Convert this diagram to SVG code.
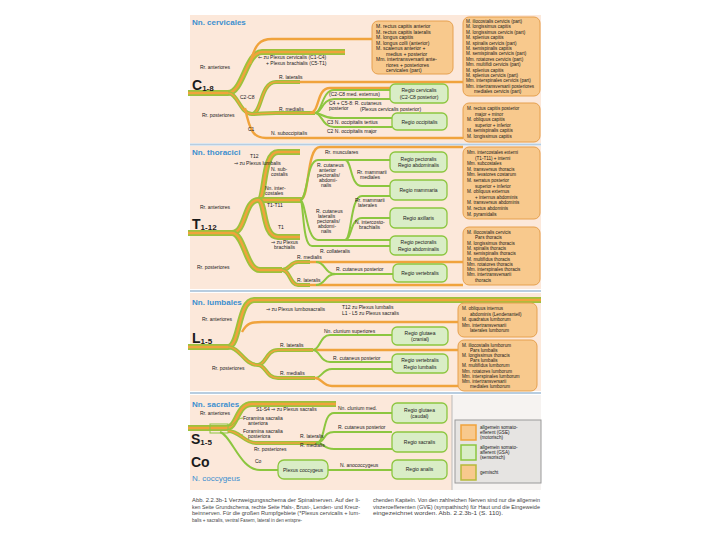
<svg xmlns="http://www.w3.org/2000/svg" width="720" height="540" viewBox="0 0 720 540">
<style>
text{font-family:"Liberation Sans",Arial,sans-serif;fill:#1a1a1a}
.s{font-size:5px}
.xs{font-size:4.6px}
.ti{font-size:8px;font-weight:bold;fill:#3d8fcf}
.big{font-size:14px;font-weight:bold}
.sub{font-size:8px;font-weight:bold}
.bg{fill:#fce8da}
.ob{fill:#f8c98d;stroke:#e6a04e;stroke-width:1}
.gb{fill:#d9edc6;stroke:#8cc63f;stroke-width:1.3}
.c{text-anchor:middle}
.tk{fill:none;stroke:#9cc23c;stroke-width:6}
.tc{fill:none;stroke:#f0a33c;stroke-width:2.4}
.mk{fill:none;stroke:#9cc23c;stroke-width:4}
.mc{fill:none;stroke:#f0a33c;stroke-width:1.5}
.o{fill:none;stroke:#f0a33c;stroke-width:2.4}
.g{fill:none;stroke:#8cc63f;stroke-width:2}
.gt{fill:none;stroke:#8cc63f;stroke-width:1}
.cap{font-size:5px;fill:#444}
.sep{stroke:#b8cde0;stroke-width:2}
</style>

<g id="backgrounds">
<rect x="190" y="15" width="351" height="128" class="bg"/>
<rect x="190" y="146" width="351" height="143" class="bg"/>
<rect x="190" y="293" width="351" height="98" class="bg"/>
<rect x="190" y="395" width="262" height="95" class="bg"/>
<rect x="452" y="395" width="89" height="95" fill="#f6f3f1"/>
<line x1="190" y1="144.5" x2="541" y2="144.5" class="sep"/>
<line x1="190" y1="291" x2="541" y2="291" class="sep"/>
<line x1="190" y1="393" x2="541" y2="393" class="sep"/>
<line x1="452" y1="395" x2="452" y2="490" stroke="#bbb" stroke-width="1"/>
</g>

<g id="connectors">
<!-- cervical -->
<path class="tk" d="M188,93 H228 C243,93 246,52 262,52 H345"/>
<path class="tc" d="M188,93 H228 C243,93 246,52 262,52 H345"/>
<path class="o" d="M250,64 C255,44 260,39 272,39 H372"/>
<path class="mk" d="M228,93 C238,93 240,114 252,114"/>
<path class="mc" d="M228,93 C238,93 240,114 252,114"/>
<path class="mk" d="M252,114 C262,114 260,82 276,82 H300"/>
<path class="mc" d="M252,114 C262,114 260,82 276,82 H300"/>
<path class="o" d="M300,82 H463"/>
<path class="mk" d="M252,114 C262,114 262,113 276,113 H315"/>
<path class="mc" d="M252,114 C262,114 262,113 276,113 H315"/>
<path class="o" d="M245,108 C250,132 254,138 266,138 H463"/>
<path class="o" d="M310,113 C320,113 316,88 330,88 H392"/>
<path class="g" d="M315,113 C322,113 322,90 334,90 H390"/>
<path class="g" d="M315,113 C322,113 322,99 334,99 H390"/>
<path class="g" d="M315,113 C322,113 322,118 334,118 H392"/>
<path class="g" d="M315,113 C322,113 322,127 334,127 H392"/>

<!-- thoracic -->
<path class="tk" d="M188,233 H232 C246,233 244,200 258,200"/>
<path class="tc" d="M188,233 H232 C246,233 244,200 258,200"/>
<path class="tk" d="M258,200 C266,200 262,152 278,152 H300"/>
<path class="tc" d="M258,200 C266,200 262,152 278,152 H300"/>
<path class="tk" d="M258,200 H302"/>
<path class="tc" d="M258,200 H302"/>
<path class="tk" d="M258,200 C266,200 262,237 278,237 H300"/>
<path class="tc" d="M258,200 C266,200 262,237 278,237 H300"/>
<path class="o" d="M300,200 C310,200 306,147 320,147 H463"/>
<path class="g" d="M300,200 C308,200 306,160 318,160 H390"/>
<path class="g" d="M345,160 C352,160 350,186 362,186 H390"/>
<path class="g" d="M300,200 C306,200 306,240 318,240 H390"/>
<path class="g" d="M345,240 C352,240 350,196 362,196 H390"/>
<path class="g" d="M345,240 C352,240 350,218 362,218 H390"/>
<path class="g" d="M300,200 C304,200 302,246 312,246 H390"/>
<path class="tk" d="M232,233 C244,233 246,270 260,270 H282"/>
<path class="tc" d="M232,233 C244,233 246,270 260,270 H282"/>
<path class="mk" d="M282,270 C290,270 290,262 298,262 H310"/>
<path class="mc" d="M282,270 C290,270 290,262 298,262 H310"/>
<path class="mk" d="M282,270 C290,270 290,285 298,285 H310"/>
<path class="mc" d="M282,270 C290,270 290,285 298,285 H310"/>
<path class="o" d="M310,262 H463"/>
<path class="o" d="M310,285 H463"/>
<path class="g" d="M316,262 C326,262 324,274 336,274 H393"/>
<path class="g" d="M316,285 C326,285 324,274 336,274"/>

<!-- lumbar -->
<path class="tk" d="M188,347 H228 C240,347 238,300 254,300 H541"/>
<path class="tc" d="M188,347 H228 C240,347 238,300 254,300 H541"/>
<path class="o" d="M242,332 C247,323 251,322 262,322 H458"/>
<path class="mk" d="M228,347 C240,347 244,365 258,365"/>
<path class="mc" d="M228,347 C240,347 244,365 258,365"/>
<path class="mk" d="M258,365 C266,365 266,350 278,350 H313"/>
<path class="mc" d="M258,365 C266,365 266,350 278,350 H313"/>
<path class="mk" d="M258,365 C266,365 266,378 278,378 H315"/>
<path class="mc" d="M258,365 C266,365 266,378 278,378 H315"/>
<path class="o" d="M313,350 H458"/>
<path class="g" d="M313,350 C320,350 320,335 330,335 H392"/>
<path class="g" d="M313,350 C320,350 320,362 330,362 H392"/>
<path class="g" d="M315,378 C322,378 322,369 332,369 H392"/>
<path class="o" d="M315,378 C322,378 322,386 332,386 H458"/>

<!-- sacral -->
<path class="tk" d="M188,428 H226 C238,428 236,404 252,404 H336"/>
<path class="tc" d="M188,428 H226 C238,428 236,404 252,404 H336"/>
<rect x="210" y="424" width="18" height="9" fill="none" stroke="#8cc63f" stroke-width="1"/>
<path class="gt" d="M228,426 C235,426 236,418 243,418"/>
<path class="gt" d="M228,431 C235,431 236,435 243,435"/>
<path class="mk" d="M228,431 C240,431 244,443 256,443 H318"/>
<path class="mc" d="M228,431 C240,431 244,443 256,443 H318"/>
<path class="g" d="M316,443 C326,443 322,413 334,413 H392"/>
<path class="g" d="M316,443 C326,443 322,432 334,432 H392"/>
<path class="g" d="M316,443 C326,443 322,449 334,449 H392"/>
<path class="g" d="M220,432 C232,436 240,470 260,470 H279"/>
<path class="g" d="M328,470 H392"/>
</g>

<g id="cervicales">
<text x="192" y="25" class="ti">Nn. cervicales</text>
<text x="192" y="90" class="big">C<tspan class="sub" dy="1">1-8</tspan></text>
<text x="200" y="69" class="s">Rr. anteriores</text>
<text x="202" y="117" class="s">Rr. posteriores</text>
<text x="258" y="59" class="s">⇐ zu Plexus cervicalis (C1-C4)</text>
<text x="266" y="65" class="s">+ Plexus brachialis (C5-T1)</text>
<text x="240" y="99" class="s">C2-C8</text>
<text x="279" y="79" class="s">R. lateralis</text>
<text x="279" y="111" class="s">R. medialis</text>
<text x="248" y="131" class="s">C1</text>
<text x="271" y="135" class="s">N. suboccipitalis</text>
<text x="329" y="96" class="s">(C2-C8 med. externus)</text>
<text x="329" y="105" class="s">C4 + C5-8: R. cutaneus</text>
<text x="329" y="110" class="s">posterior</text>
<text x="360" y="111" class="s">(Plexus cervicalis posterior)</text>
<text x="327" y="124" class="s">C3 N. occipitalis tertius</text>
<text x="327" y="133" class="s">C2 N. occipitalis major</text>
</g>
<g id="c-box-ventral">
<rect x="372" y="21" width="81" height="53" rx="6" class="ob"/>
<text class="s"><tspan x="376" y="28">M.  rectus capitis anterior</tspan><tspan x="376" y="33.5">M.  rectus capitis lateralis</tspan><tspan x="376" y="39">M.  longus capitis</tspan><tspan x="376" y="44.5">M.  longus colli (anterior)</tspan><tspan x="376" y="50">M.  scalenus anterior +</tspan><tspan x="386" y="55.5">medius + posterior</tspan><tspan x="376" y="61">Mm. intertransversarii ante-</tspan><tspan x="386" y="66.5">riores + posteriores</tspan><tspan x="386" y="72">cervicales (part)</tspan></text>
</g>
<g id="c-box-dorsal">
<rect x="463" y="17" width="77" height="79" rx="6" class="ob"/>
<text class="xs"><tspan x="466" y="23">M. iliocostalis cervicis (part)</tspan><tspan x="466" y="28.4">M. longissimus capitis</tspan><tspan x="466" y="33.8">M. longissimus cervicis (part)</tspan><tspan x="466" y="39.2">M. splenius capitis</tspan><tspan x="466" y="44.6">M. spinalis cervicis (part)</tspan><tspan x="466" y="50">M. semispinalis capitis</tspan><tspan x="466" y="55.4">M. semispinalis cervicis (part)</tspan><tspan x="466" y="60.8">Mm. rotatores cervicis (part)</tspan><tspan x="466" y="66.2">Mm. multifidi cervicis (part)</tspan><tspan x="466" y="71.6">M. splenius capitis</tspan><tspan x="466" y="77">M. splenius cervicis (part)</tspan><tspan x="466" y="82.4">Mm. interspinales cervicis (part)</tspan><tspan x="466" y="87.8">Mm. intertransversarii posteriores</tspan><tspan x="474" y="93.2">mediales cervicis (part)</tspan></text>
</g>
<g id="c-box-suboccipital">
<rect x="463" y="103" width="77" height="39" rx="6" class="ob"/>
<text class="xs"><tspan x="467" y="110">M. rectus capitis posterior</tspan><tspan x="475" y="115.6">major + minor</tspan><tspan x="467" y="121.2">M. obliquus capitis</tspan><tspan x="475" y="126.8">superior + inferior</tspan><tspan x="467" y="132.4">M. semispinalis capitis</tspan><tspan x="467" y="138">M. longissimus capitis</tspan></text>
</g>
<g id="c-regio-cervicalis">
<rect x="390" y="84" width="58" height="19" rx="5" class="gb"/>
<text x="419" y="92" class="s c">Regio cervicalis</text>
<text x="419" y="99" class="s c">(C2-C8 posterior)</text>
</g>
<g id="c-regio-occipitalis">
<rect x="392" y="113" width="55" height="17" rx="5" class="gb"/>
<text x="419.5" y="123.5" class="s c">Regio occipitalis</text>
</g>

<g id="thoracici">
<text x="192" y="155" class="ti">Nn. thoracici</text>
<text x="192" y="229" class="big">T<tspan class="sub" dy="1">1-12</tspan></text>
<text x="200" y="209" class="s">Rr. anteriores</text>
<text x="197" y="269" class="s">Rr. posteriores</text>
<text x="250" y="158" class="s">T12</text>
<text x="234" y="165" class="s">⇒ zu Plexus lumbalis</text>
<text x="271" y="171" class="s">N. sub-</text>
<text x="271" y="176" class="s">costalis</text>
<text x="265" y="190" class="s">Nn. inter-</text>
<text x="265" y="195" class="s">costales</text>
<text x="267" y="207" class="s">T1-T11</text>
<text x="278" y="229" class="s">T1</text>
<text x="271" y="244" class="s">⇒ zu Plexus</text>
<text x="274" y="249" class="s">brachialis</text>
<text x="325" y="154" class="s">Rr. musculares</text>
<text class="s"><tspan x="317" y="167">R. cutaneus</tspan><tspan x="319" y="172">anterior</tspan><tspan x="317" y="177">pectoralis/</tspan><tspan x="319" y="182">abdomi-</tspan><tspan x="321" y="187">nalis</tspan></text>
<text x="357" y="174" class="s">Rr. mammarii</text>
<text x="360" y="179" class="s">mediales</text>
<text class="s"><tspan x="316" y="213">R. cutaneus</tspan><tspan x="318" y="218">lateralis</tspan><tspan x="317" y="223">pectoralis/</tspan><tspan x="318" y="228">abdomi-</tspan><tspan x="321" y="233">nalis</tspan></text>
<text x="355" y="202" class="s">Rr. mammarii</text>
<text x="358" y="207" class="s">laterales</text>
<text x="355" y="224" class="s">N. intercosto-</text>
<text x="359" y="229" class="s">brachialis</text>
<text x="320" y="253" class="s">R. collateralis</text>
<text x="297" y="259" class="s">R. medialis</text>
<text x="336" y="271" class="s">R. cutaneus posterior</text>
<text x="297" y="282" class="s">R. lateralis</text>
</g>
<g id="t-regio-pect1">
<rect x="390" y="152" width="57" height="20" rx="5" class="gb"/>
<text x="418.5" y="160.5" class="s c">Regio pectoralis</text>
<text x="418.5" y="167" class="s c">Regio abdominalis</text>
</g>
<g id="t-regio-mammaria">
<rect x="390" y="180" width="57" height="20" rx="5" class="gb"/>
<text x="418.5" y="191.5" class="s c">Regio mammaria</text>
</g>
<g id="t-regio-axillaris">
<rect x="390" y="208" width="57" height="20" rx="5" class="gb"/>
<text x="418.5" y="219.5" class="s c">Regio axillaris</text>
</g>
<g id="t-regio-pect2">
<rect x="390" y="236" width="57" height="19" rx="5" class="gb"/>
<text x="418.5" y="244" class="s c">Regio pectoralis</text>
<text x="418.5" y="250.5" class="s c">Regio abdominalis</text>
</g>
<g id="t-regio-vertebralis">
<rect x="393" y="264" width="54" height="18" rx="5" class="gb"/>
<text x="420" y="274.5" class="s c">Regio vertebralis</text>
</g>
<g id="t-box-ventral">
<rect x="463" y="147" width="77" height="72" rx="6" class="ob"/>
<text class="xs"><tspan x="467" y="154">Mm. intercostales externi</tspan><tspan x="475" y="159.6">(T1-T11) + interni</tspan><tspan x="467" y="165.2">Mm. subcostales</tspan><tspan x="467" y="170.8">M. transversus thoracis</tspan><tspan x="467" y="176.4">Mm. levatores costarum</tspan><tspan x="467" y="182">M. serratus posterior</tspan><tspan x="475" y="187.6">superior + inferior</tspan><tspan x="467" y="193.2">M. obliquus externus</tspan><tspan x="475" y="198.8">+ internus abdominis</tspan><tspan x="467" y="204.4">M. transversus abdominis</tspan><tspan x="467" y="210">M. rectus abdominis</tspan><tspan x="467" y="215.6">M. pyramidalis</tspan></text>
</g>
<g id="t-box-dorsal">
<rect x="463" y="227" width="77" height="58" rx="6" class="ob"/>
<text class="xs"><tspan x="467" y="234">M. iliocostalis cervicis</tspan><tspan x="475" y="239.3">Pars thoracis</tspan><tspan x="467" y="244.6">M. longissimus thoracis</tspan><tspan x="467" y="249.9">M. spinalis thoracis</tspan><tspan x="467" y="255.2">M. semispinalis thoracis</tspan><tspan x="467" y="260.5">M. multifidus thoracis</tspan><tspan x="467" y="265.8">Mm. rotatores thoracis</tspan><tspan x="467" y="271.1">Mm. interspinales thoracis</tspan><tspan x="467" y="276.4">Mm. intertransversarii</tspan><tspan x="475" y="281.7">thoracis</tspan></text>
</g>

<g id="lumbales">
<text x="192" y="305" class="ti">Nn. lumbales</text>
<text x="192" y="343" class="big">L<tspan class="sub" dy="1">1-5</tspan></text>
<text x="202" y="321" class="s">Rr. anteriores</text>
<text x="212" y="370" class="s">Rr. posteriores</text>
<text x="266" y="311" class="s">⇒ zu Plexus lumbosacralis</text>
<text x="342" y="309" class="s">T12 zu Plexus lumbalis</text>
<text x="342" y="315" class="s">L1 - L5 zu Plexus sacralis</text>
<text x="280" y="347" class="s">R. lateralis</text>
<text x="280" y="375" class="s">R. medialis</text>
<text x="324" y="333" class="s">Nn. clunium superiores</text>
<text x="333" y="360" class="s">R. cutaneus posterior</text>
</g>
<g id="l-regio-glutaea">
<rect x="392" y="327" width="56" height="18" rx="5" class="gb"/>
<text x="420" y="334.5" class="s c">Regio glutaea</text>
<text x="420" y="341" class="s c">(cranial)</text>
</g>
<g id="l-regio-lumbalis">
<rect x="392" y="354" width="56" height="19" rx="5" class="gb"/>
<text x="420" y="362" class="s c">Regio vertebralis</text>
<text x="420" y="368.5" class="s c">Regio lumbalis</text>
</g>
<g id="l-box-ventral">
<rect x="458" y="303" width="79" height="34" rx="6" class="ob"/>
<text class="xs"><tspan x="462" y="310">M. obliquus internus</tspan><tspan x="470" y="315.6">abdominis (Lendenanteil)</tspan><tspan x="462" y="321.2">M. quadratus lumborum</tspan><tspan x="462" y="326.8">Mm. intertransversarii</tspan><tspan x="470" y="332.4">laterales lumborum</tspan></text>
</g>
<g id="l-box-dorsal">
<rect x="458" y="340" width="79" height="51" rx="6" class="ob"/>
<text class="xs"><tspan x="462" y="346.5">M. iliocostalis lumborum</tspan><tspan x="470" y="351.7">Pars lumbalis</tspan><tspan x="462" y="356.9">M. longissimus thoracis</tspan><tspan x="470" y="362.1">Pars lumbalis</tspan><tspan x="462" y="367.3">M. multifidus lumborum</tspan><tspan x="462" y="372.5">Mm. rotatores lumborum</tspan><tspan x="462" y="377.7">Mm. interspinales lumborum</tspan><tspan x="462" y="382.9">Mm. intertransversarii</tspan><tspan x="470" y="388.1">mediales lumborum</tspan></text>
</g>

<g id="sacrales">
<text x="192" y="407" class="ti">Nn. sacrales</text>
<text x="200" y="415" class="s">Rr. anteriores</text>
<text x="191" y="444" class="big">S<tspan class="sub" dy="1">1-5</tspan></text>
<text x="191" y="467" class="big">Co</text>
<text x="192" y="481" class="ti" style="font-weight:normal">N. coccygeus</text>
<text x="256" y="411" class="s">S1-S4 ⇒ zu Plexus sacralis</text>
<text x="243" y="420" class="s">Foramina sacralia</text>
<text x="248" y="425" class="s">anteriora</text>
<text x="243" y="433" class="s">Foramina sacralia</text>
<text x="248" y="438" class="s">posteriora</text>
<text x="254" y="451" class="s">Rr. posteriores</text>
<text x="300" y="438" class="s">R. lateralis</text>
<text x="300" y="447" class="s">R. medialis</text>
<text x="255" y="463" class="s">Co</text>
<text x="338" y="410" class="s">Nn. clunium med.</text>
<text x="338" y="429" class="s">R. cutaneus posterior</text>
<text x="340" y="467" class="s">N. anococcygeus</text>
</g>
<g id="s-plexus-coccygeus">
<rect x="278" y="460" width="50" height="19" rx="6" class="gb" stroke-width="2"/>
<text x="303" y="471.5" class="s c">Plexus coccygeus</text>
</g>
<g id="s-regio-glutaea">
<rect x="392" y="403" width="55" height="20" rx="5" class="gb"/>
<text x="419.5" y="411.5" class="s c">Regio glutaea</text>
<text x="419.5" y="418" class="s c">(caudal)</text>
</g>
<g id="s-regio-sacralis">
<rect x="392" y="432" width="55" height="20" rx="5" class="gb"/>
<text x="419.5" y="443.5" class="s c">Regio sacralis</text>
</g>
<g id="s-regio-analis">
<rect x="392" y="460" width="55" height="19" rx="5" class="gb"/>
<text x="419.5" y="471" class="s c">Regio analis</text>
</g>

<g id="legend">
<rect x="455" y="420" width="86" height="63" fill="#e6e4e2" stroke="#9a9a9a" stroke-width="1"/>
<rect x="461" y="425" width="15" height="15" fill="#f8c98d" stroke="#f0a33c" stroke-width="1.5"/>
<rect x="461" y="445" width="15" height="15" fill="#d9edc6" stroke="#8cc63f" stroke-width="1.5"/>
<rect x="461" y="465" width="15" height="15" fill="#f8c98d" stroke="#b7b93a" stroke-width="1.5"/>
<text class="xs"><tspan x="480" y="429">allgemein somato-</tspan><tspan x="480" y="434">efferent (GSE)</tspan><tspan x="480" y="439">(motorisch)</tspan><tspan x="480" y="449">allgemein somato-</tspan><tspan x="480" y="454">afferent (GSA)</tspan><tspan x="480" y="459">(sensorisch)</tspan><tspan x="480" y="474">gemischt</tspan></text>
</g>

<g id="caption">
<text class="cap" x="192" y="502" textLength="168" lengthAdjust="spacingAndGlyphs">Abb. 2.2.3b-1 Verzweigungsschema der Spinalnerven. Auf der li-</text>
<text class="cap" x="192" y="508.5" textLength="168" lengthAdjust="spacingAndGlyphs">ken Seite Grundschema, rechte Seite Hals-, Brust-, Lenden- und Kreuz-</text>
<text class="cap" x="192" y="515" textLength="168" lengthAdjust="spacingAndGlyphs">beinnerven. Für die großen Rumpfgebiete (*Plexus cervicalis + lum-</text>
<text class="cap" x="192" y="521.5" textLength="110" lengthAdjust="spacingAndGlyphs">balis + sacralis, ventral Fasern, lateral in den entspre-</text>
<text class="cap" x="373" y="502" textLength="167" lengthAdjust="spacingAndGlyphs">chenden Kapiteln. Von den zahlreichen Nerven sind nur die allgemein</text>
<text class="cap" x="373" y="508.5" textLength="167" lengthAdjust="spacingAndGlyphs">viszeroefferenten (GVE) (sympathisch) für Haut und die Eingeweide</text>
<text class="cap" x="373" y="515" textLength="130" lengthAdjust="spacingAndGlyphs">eingezeichnet worden. Abb. 2.2.3b-1 (S. 110).</text>
</g>
</svg>
